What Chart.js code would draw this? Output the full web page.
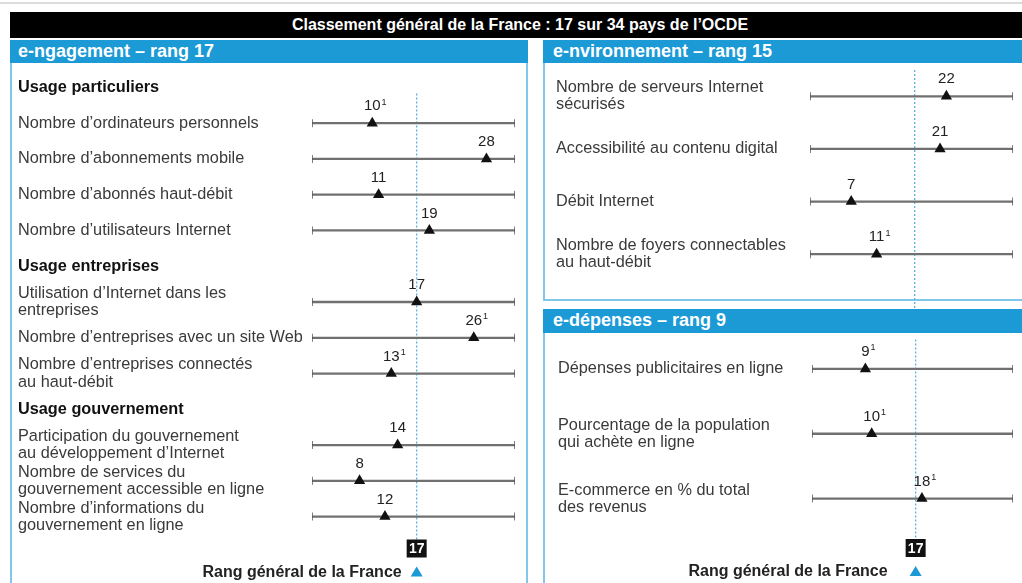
<!DOCTYPE html>
<html lang="fr">
<head>
<meta charset="utf-8">
<script src="https://cdn.jsdelivr.net/npm/chart.js@4/dist/chart.umd.min.js"></script>
<style>
  body { margin: 0; width: 1022px; height: 583px; overflow: hidden; background: #fff; position: relative;
         font-family: "Liberation Sans", Arial, sans-serif; }
  .rule { position: absolute; left: 0; top: 2px; width: 1022px; height: 2px; background: #dcdcdc; }
  .banner { position: absolute; left: 10px; top: 12px; width: 1012px; height: 26px; background: #000; color: #fff;
            font-weight: bold; font-size: 16px; line-height: 26px; text-align: center; padding-left: 8px; box-sizing: border-box; }
  .box { position: absolute; border: 2px solid #7fc8ea; box-sizing: border-box; }
  .head { position: absolute; height: 23px; background: #1b9ad6; color: #fff; font-weight: bold; font-size: 18px;
          line-height: 23px; box-sizing: border-box; white-space: nowrap; }
  canvas { position: absolute; }
</style>
</head>
<body>
<div class="rule"></div>
<div class="banner">Classement général de la France : 17 sur 34 pays de l’OCDE</div>

<div class="box" style="left:10px;top:40px;width:518px;height:600px"></div>
<div class="head" style="left:10px;top:40px;width:518px;padding-left:8px">e-ngagement – rang 17</div>

<div class="box" style="left:543px;top:40px;width:500px;height:261px"></div>
<div class="head" style="left:543px;top:40px;width:479px;padding-left:10px">e-nvironnement – rang 15</div>

<div class="box" style="left:543px;top:309px;width:500px;height:300px"></div>
<div class="head" style="left:543px;top:309px;width:479px;height:24px;padding-left:10px">e-dépenses – rang 9</div>

<canvas id="engagement" width="514" height="520" style="left:12px;top:63px"></canvas>
<canvas id="environnement" width="477" height="246" style="left:545px;top:63px"></canvas>
<canvas id="depenses" width="477" height="253" style="left:545px;top:330px"></canvas>

<script>
// rang de la France parmi les 34 pays de l'OCDE
const franceRank = 17;
const rankMin = 0.5;
const rankMax = 32.5;
const footerText = 'Rang général de la France';

// e-ngagement (null = titre de rubrique)
const engagementLabels = [
  'Usage particuliers',
  'Nombre d’ordinateurs personnels',
  'Nombre d’abonnements mobile',
  'Nombre d’abonnés haut-débit',
  'Nombre d’utilisateurs Internet',
  'Usage entreprises',
  ['Utilisation d’Internet dans les', 'entreprises'],
  'Nombre d’entreprises avec un site Web',
  ['Nombre d’entreprises connectés', 'au haut-débit'],
  'Usage gouvernement',
  ['Participation du gouvernement', 'au développement d’Internet'],
  ['Nombre de services du', 'gouvernement accessible en ligne'],
  ['Nombre d’informations du', 'gouvernement en ligne']
];
const engagementRanks = [null, 10, 28, 11, 19, null, 17, 26, 13, null, 14, 8, 12];
const engagementNotes = [0, 1, 0, 0, 0, 0, 0, 1, 1, 0, 0, 0, 0];

// e-nvironnement
const environnementLabels = [
  ['Nombre de serveurs Internet', 'sécurisés'],
  'Accessibilité au contenu digital',
  'Débit Internet',
  ['Nombre de foyers connectables', 'au haut-débit']
];
const environnementRanks = [22, 21, 7, 11];
const environnementNotes = [0, 0, 0, 1];

// e-dépenses
const depensesLabels = [
  'Dépenses publicitaires en ligne',
  ['Pourcentage de la population', 'qui achète en ligne'],
  ['E-commerce en % du total', 'des revenus']
];
const depensesRanks = [9, 10, 18];
const depensesNotes = [1, 1, 1];

const FONT = '"Liberation Sans", Arial, sans-serif';

const rangsPlugin = {
  id: 'rangs',
  beforeDatasetsDraw(chart, args, o) {
    const ctx = chart.ctx, area = chart.chartArea;
    const x = chart.scales.x.getPixelForValue(franceRank);
    ctx.save();
    ctx.strokeStyle = '#55b3de';
    ctx.lineWidth = 1.3;
    ctx.setLineDash([2, 2]);
    ctx.beginPath();
    ctx.moveTo(x, area.top + o.lineTop);
    ctx.lineTo(x, o.footer ? area.bottom + o.footerShift + 5 : chart.height);
    ctx.stroke();
    ctx.restore();
  },
  afterDatasetsDraw(chart, args, o) {
    const ctx = chart.ctx, area = chart.chartArea;
    const meta = chart.getDatasetMeta(0);
    const ranks = chart.data.datasets[0].data;
    ctx.save();
    ctx.fillStyle = '#222';
    ctx.textBaseline = 'middle';
    meta.data.forEach((pt, i) => {
      if (ranks[i] == null) return;
      const txt = String(ranks[i]);
      ctx.font = '15px ' + FONT;
      ctx.textAlign = 'center';
      ctx.fillText(txt, pt.x, pt.y - 17);
      if (o.notes[i]) {
        const w = ctx.measureText(txt).width;
        ctx.font = '9px ' + FONT;
        ctx.textAlign = 'left';
        ctx.fillText('1', pt.x + w / 2 + 1, pt.y - 21);
      }
    });
    if (o.footer) {
      const x = chart.scales.x.getPixelForValue(franceRank);
      const by = area.bottom + o.footerShift + 14;
      ctx.fillStyle = '#111';
      ctx.fillRect(x - 10, by - 9, 20, 18);
      ctx.fillStyle = '#fff';
      ctx.font = 'bold 14px ' + FONT;
      ctx.textAlign = 'center';
      ctx.fillText(String(franceRank), x, by + 1);
      const ty = area.bottom + o.footerShift + 38;
      ctx.fillStyle = '#222';
      ctx.font = 'bold 16px ' + FONT;
      ctx.textAlign = 'right';
      ctx.fillText(footerText, x - o.footerGap, ty);
      ctx.fillStyle = '#1b9ad6';
      ctx.beginPath();
      ctx.moveTo(x, ty - 6);
      ctx.lineTo(x + 6, ty + 4);
      ctx.lineTo(x - 6, ty + 4);
      ctx.closePath();
      ctx.fill();
    }
    ctx.restore();
  }
};

function makeChart(id, labels, ranks, notes, cfg) {
  return new Chart(document.getElementById(id), {
    type: 'bar',
    data: {
      labels: labels,
      datasets: [
        {
          type: 'line', indexAxis: 'y', data: ranks, showLine: false, order: 0,
          pointStyle: 'triangle', pointRadius: 6.5, pointBackgroundColor: '#111', pointBorderWidth: 0
        },
        {
          type: 'line', indexAxis: 'y', data: ranks.map(v => v == null ? null : rankMin), showLine: false, order: 1,
          pointStyle: 'line', pointRotation: 90, pointRadius: 4, pointBorderColor: '#555', pointBorderWidth: 1.5
        },
        {
          type: 'line', indexAxis: 'y', data: ranks.map(v => v == null ? null : rankMax), showLine: false, order: 1,
          pointStyle: 'line', pointRotation: 90, pointRadius: 4, pointBorderColor: '#555', pointBorderWidth: 1.5
        },
        {
          type: 'bar', indexAxis: 'y', data: ranks.map(v => v == null ? null : [rankMin, rankMax]), order: 2,
          backgroundColor: '#707070', barThickness: 1.6
        }
      ]
    },
    options: {
      indexAxis: 'y',
      responsive: false,
      animation: false,
      events: [],
      layout: { padding: cfg.padding },
      plugins: {
        legend: { display: false },
        tooltip: { enabled: false },
        rangs: { notes: notes, footer: cfg.footer, footerGap: cfg.footerGap, footerShift: cfg.footerShift || 0, lineTop: cfg.lineTop }
      },
      scales: {
        x: { type: 'linear', min: rankMin, max: rankMax, display: false },
        y: {
          type: 'category',
          offset: true,
          grid: { display: false },
          border: { display: false },
          ticks: {
            autoSkip: false,
            crossAlign: 'far',
            color: c => ranks[c.index] == null ? '#111' : '#3a3a3a',
            font: c => ({ family: FONT, size: 16.3, lineHeight: 1.05, weight: ranks[c.index] == null ? 'bold' : 'normal' })
          },
          afterFit: s => {
            s.width = cfg.axisWidth;
            s.paddingTop = 0;
            s.paddingBottom = 0;
          }
        }
      }
    },
    plugins: [rangsPlugin]
  });
}

makeChart('engagement', engagementLabels, engagementRanks, engagementNotes, {
  padding: { left: 6, right: 11, top: 0, bottom: 48.5 }, axisWidth: 294, footer: true, footerGap: 15, lineTop: 24
});
makeChart('environnement', environnementLabels, environnementRanks, environnementNotes, {
  padding: { left: 11, right: 9, top: 7, bottom: 28.5 }, axisWidth: 254, footer: false, footerGap: 0, lineTop: 0
});
makeChart('depenses', depensesLabels, depensesRanks, depensesNotes, {
  padding: { left: 13, right: 9, top: 0, bottom: 52 }, axisWidth: 254, footer: true, footerGap: 28, footerShift: 3, lineTop: 3
});
</script>
</body>
</html>
